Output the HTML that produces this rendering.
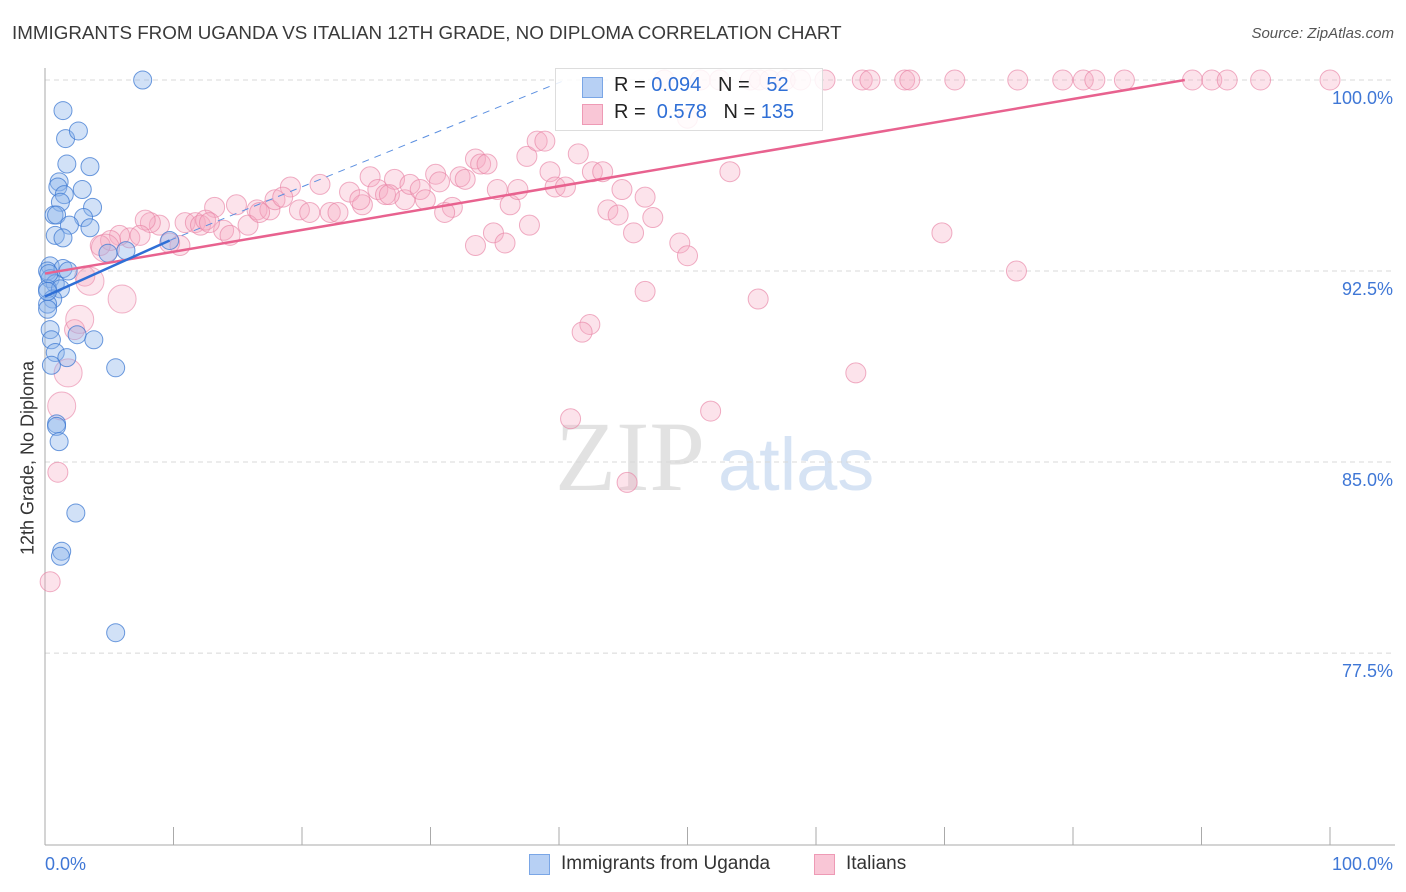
<!DOCTYPE html>
<html><head><meta charset="utf-8">
<style>
body{margin:0;background:#fff;font-family:"Liberation Sans",sans-serif;}
#wrap{position:relative;width:1406px;height:892px;overflow:hidden;}
.t{position:absolute;white-space:nowrap;}
</style></head>
<body>
<div id="wrap">
<div class="t" style="left:12px;top:22px;font-size:18.8px;color:#3a3a3a;">IMMIGRANTS FROM UGANDA VS ITALIAN 12TH GRADE, NO DIPLOMA CORRELATION CHART</div>
<div class="t" style="right:12px;top:25px;font-size:15px;color:#555;font-style:italic;">Source: ZipAtlas.com</div>
<div class="t" style="left:28px;top:458px;font-size:18px;color:#333;transform:translate(-50%,-50%) rotate(-90deg);">12th Grade, No Diploma</div>
<svg id="plot" width="1406" height="892" style="position:absolute;left:0;top:0"></svg>
<div style="position:absolute;left:555px;top:68px;width:266px;height:61px;border:1px solid #ddd;background:rgba(255,255,255,0.85);font-size:20px;">
 <div style="position:absolute;left:26px;top:8px;width:19px;height:19px;background:#b7d0f4;border:1px solid #7aa6e6;"></div>
 <div class="t" style="left:58px;top:5px;color:#222;">R = <span style="color:#2f6fd6">0.094</span>&nbsp;&nbsp;&nbsp;N = &nbsp;&nbsp;<span style="color:#2f6fd6">52</span></div>
 <div style="position:absolute;left:26px;top:35px;width:19px;height:19px;background:#f9c6d6;border:1px solid #ee9ab5;"></div>
 <div class="t" style="left:58px;top:32px;color:#222;">R = &nbsp;<span style="color:#2f6fd6">0.578</span>&nbsp;&nbsp;&nbsp;N = <span style="color:#2f6fd6">135</span></div>
</div>
<div style="position:absolute;left:529px;top:854px;width:19px;height:19px;background:#b7d0f4;border:1px solid #7aa6e6;"></div>
<div class="t" style="left:561px;top:853px;font-size:19px;color:#333;">Immigrants from Uganda</div>
<div style="position:absolute;left:814px;top:854px;width:19px;height:19px;background:#f9c6d6;border:1px solid #ee9ab5;"></div>
<div class="t" style="left:846px;top:853px;font-size:19px;color:#333;">Italians</div>
</div>
<script>
const yTicks=[100,92.5,85,77.5];
const yTickLabels=["100.0%","92.5%","85.0%","77.5%"];
const xEndLabels=["0.0%","100.0%"];
const blueX=[7.6,1.4,1.6,2.6,1.7,3.5,1.1,1.0,2.9,1.5,3.7,1.2,0.7,0.9,3.0,1.9,3.5,0.8,1.4,6.3,4.9,9.7,0.4,0.2,1.4,1.8,0.4,0.8,0.2,1.2,0.6,0.2,0.2,0.4,0.5,2.5,3.8,0.8,1.7,0.5,5.5,0.9,0.9,1.1,2.4,1.3,1.2,5.5,0.2,0.3];
const blueY=[100.0,98.8,97.7,98.0,96.7,96.6,96.0,95.8,95.7,95.5,95.0,95.2,94.7,94.7,94.6,94.3,94.2,93.9,93.8,93.3,93.2,93.7,92.7,92.5,92.6,92.5,92.2,92.0,91.8,91.8,91.4,91.2,91.0,90.2,89.8,90.0,89.8,89.3,89.1,88.8,88.7,86.5,86.4,85.8,83.0,81.5,81.3,78.3,91.7,92.4];
const pinkX=[48.2,51.0,52.5,54.9,55.6,56.4,57.6,58.8,60.7,63.6,64.2,66.9,67.3,70.8,75.7,79.2,80.8,81.7,84.0,89.3,90.8,92.0,94.6,100,50.0,
13.2,14.9,16.5,17.5,17.9,19.1,19.8,21.4,22.2,22.8,23.7,24.7,25.3,25.9,26.5,27.2,28.0,28.4,29.2,29.6,30.4,30.7,31.7,32.3,32.7,33.5,33.9,34.4,35.2,36.2,36.8,37.5,38.3,38.9,39.3,39.7,40.5,41.5,42.6,43.4,43.8,44.6,44.9,45.8,46.7,47.3,49.4,50.0,53.3,69.8,75.6,46.7,55.5,42.4,41.8,63.1,40.9,51.8,45.3,34.9,35.8,37.7,
10.5,9.7,8.9,8.2,7.8,6.6,5.8,5.1,4.3,7.4,10.9,11.7,12.1,12.5,13.9,14.4,15.8,16.7,18.5,20.6,12.8,3.1,2.3,1.0,0.4,24.5,26.8,31.1,33.5];
const pinkY=[100,100,100,100,100,100,100,100,100,100,100,100,100,100,100,100,100,100,100,100,100,100,100,100,98.5,
95.0,95.1,94.9,94.9,95.3,95.8,94.9,95.9,94.8,94.8,95.6,95.1,96.2,95.7,95.5,96.1,95.3,95.9,95.7,95.3,96.3,96.0,95.0,96.2,96.1,96.9,96.7,96.7,95.7,95.1,95.7,97.0,97.6,97.6,96.4,95.8,95.8,97.1,96.4,96.4,94.9,94.7,95.7,94.0,95.4,94.6,93.6,93.1,96.4,94.0,92.5,91.7,91.4,90.4,90.1,88.5,86.7,87.0,84.2,94.0,93.6,94.3,
93.5,93.6,94.3,94.4,94.5,93.8,93.9,93.7,93.5,93.9,94.4,94.4,94.3,94.5,94.1,93.9,94.3,94.8,95.4,94.8,94.4,92.3,90.2,84.6,80.3,95.3,95.5,94.8,93.5];
const pinkLargeX=[4.7,3.5,6.0,2.7,1.8,1.3];
const pinkLargeY=[93.4,92.1,91.4,90.6,88.5,87.2];
const blueTrend=[[0,91.5],[9.7,93.7]];
const blueDash=[[9.7,93.7],[40.5,100]];
const pinkTrend=[[0,92.4],[88.7,100]];

const X0=45,X1=1330,Y100=80,PXP=25.47;
const sx=v=>X0+(X1-X0)*v/100;
const sy=v=>Y100+(100-v)*PXP;
const svg=document.getElementById('plot');
const NS='http://www.w3.org/2000/svg';
function mk(tag,at){const e=document.createElementNS(NS,tag);for(const k in at)e.setAttribute(k,at[k]);svg.appendChild(e);return e;}
let w=mk('text',{x:555,y:490,'font-size':100,fill:'#e2e2e2','font-family':'Liberation Serif, serif'});w.textContent='ZIP';


let w2=mk('text',{x:718,y:490,'font-size':74,fill:'#d6e3f4','font-family':'Liberation Sans, sans-serif'});w2.textContent='atlas';


yTicks.forEach((t,i)=>{
 const g=mk('line',{x1:X0,x2:1395,y1:sy(t),y2:sy(t),stroke:'#d8d8d8','stroke-dasharray':'5,4'});
 
 
 const l=mk('text',{x:1393,y:sy(t)+24,'text-anchor':'end','font-size':18,fill:'#3f77d6'});l.textContent=yTickLabels[i];
 
 
});
let ax=mk('line',{x1:X0,x2:X0,y1:68,y2:845,stroke:'#aaa'});


let bx=mk('line',{x1:X0,x2:1395,y1:845,y2:845,stroke:'#aaa'});


for(let i=0;i<=10;i++){const t=mk('line',{x1:sx(i*10),x2:sx(i*10),y1:827,y2:845,stroke:'#aaa'});
 
 }
[[0,'start',45],[100,'end',1393]].forEach((d,i)=>{const l=mk('text',{x:d[2],y:870,'text-anchor':d[1],'font-size':18,fill:'#3f77d6'});l.textContent=xEndLabels[i];
 
 });
pinkX.forEach((v,i)=>{const c=mk('circle',{cx:sx(v),cy:sy(pinkY[i]),r:10,fill:'rgba(246,170,195,0.33)',stroke:'rgba(232,130,165,0.65)','stroke-width':1});
 
 });
pinkLargeX.forEach((v,i)=>{const c=mk('circle',{cx:sx(v),cy:sy(pinkLargeY[i]),r:14,fill:'rgba(246,170,195,0.28)',stroke:'rgba(232,130,165,0.6)','stroke-width':1});
 
 });
blueX.forEach((v,i)=>{const c=mk('circle',{cx:sx(v),cy:sy(blueY[i]),r:9,fill:'rgba(140,180,235,0.4)',stroke:'rgba(60,120,210,0.75)','stroke-width':1});
 
 });
let d=mk('line',{x1:sx(blueDash[0][0]),y1:sy(blueDash[0][1]),x2:sx(blueDash[1][0]),y2:sy(blueDash[1][1]),stroke:'#5b8fe0','stroke-width':1,'stroke-dasharray':'7,6'});


let p=mk('line',{x1:sx(pinkTrend[0][0]),y1:sy(pinkTrend[0][1]),x2:sx(pinkTrend[1][0]),y2:sy(pinkTrend[1][1]),stroke:'#e8628f','stroke-width':2.5});


let b=mk('line',{x1:sx(blueTrend[0][0]),y1:sy(blueTrend[0][1]),x2:sx(blueTrend[1][0]),y2:sy(blueTrend[1][1]),stroke:'#2f6fd6','stroke-width':2.5});


</script>
</body></html>
